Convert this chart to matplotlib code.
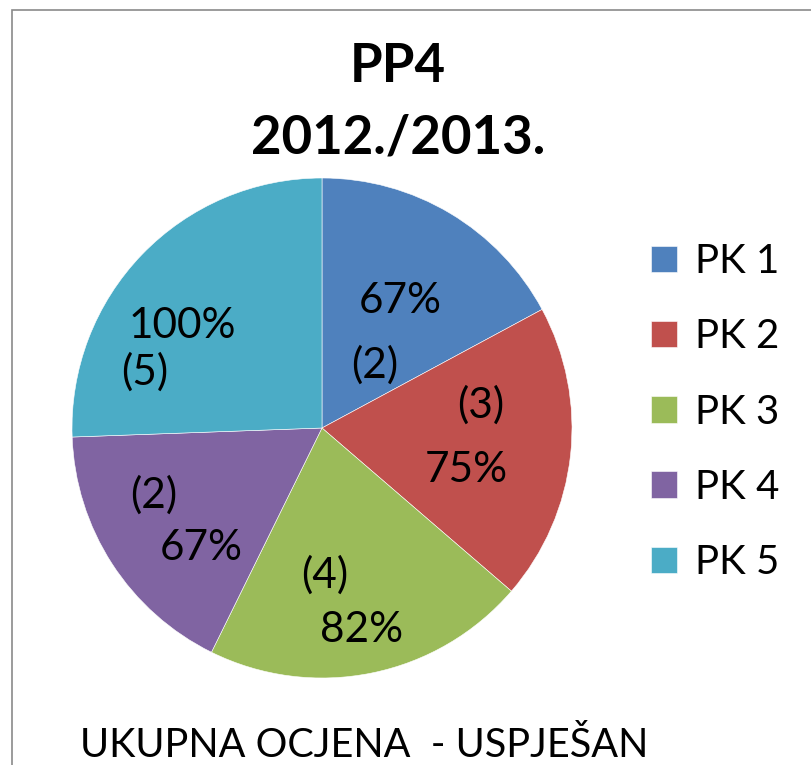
import matplotlib
matplotlib.use("Agg")
import matplotlib.pyplot as plt
import matplotlib.patches as patches

# data
categories = ["PK 1", "PK 2", "PK 3", "PK 4", "PK 5"]
percent = [67, 75, 82, 67, 100]
counts = [2, 3, 4, 2, 5]
colors = ["#4F81BD", "#C0504D", "#9BBB59", "#8064A2", "#4BACC6"]
title_lines = ["PP4", "2012./2013."]
footer = "UKUPNA OCJENA  - USPJEŠAN"

# label layout, (x, baseline y) in pie-radius units, per slice: percent line, count line
pct_pos = [(0.312, 0.46), (0.576, -0.216), (0.16, -0.856), (-0.484, -0.528), (-0.56, 0.36)]
cnt_pos = [(0.212, 0.20), (0.636, 0.04), (0.012, -0.64), (-0.672, -0.32), (-0.708, 0.172)]

W, H = 812, 765
FONT = ["Lato", "DejaVu Sans"]
plt.rcParams["font.family"] = FONT

fig = plt.figure(figsize=(W / 100, H / 100), dpi=100)
fig.patch.set_facecolor("white")

# outer chart border (only top and left visible in the crop)
border = patches.Rectangle((12 / W, -0.5), 2, 1.5 - 10 / H, transform=fig.transFigure,
                           fill=False, edgecolor="#8a8a8a", linewidth=1.2)
fig.add_artist(border)

# pie: centre (322, 428) px, radius 250 px
cx, cy, r = 322, 428, 250
ax = fig.add_axes([(cx - r) / W, (H - cy - r) / H, 2 * r / W, 2 * r / H])
wedges, _ = ax.pie(percent, colors=colors, startangle=90, counterclock=False, radius=1,
                   wedgeprops=dict(edgecolor="white", linewidth=0.4))
ax.set_xlim(-1, 1)
ax.set_ylim(-1, 1)
ax.set_aspect("equal")
ax.axis("off")

for i in range(len(percent)):
    ax.text(pct_pos[i][0], pct_pos[i][1], "%d%%" % percent[i], ha="center", va="baseline",
            fontsize=30.5, color="black")
    ax.text(cnt_pos[i][0], cnt_pos[i][1], "(%d)" % counts[i], ha="center", va="baseline",
            fontsize=30.5, color="black")

# title
fig.text(398 / W, 1 - 82 / H, title_lines[0], ha="center", va="baseline",
         fontsize=38, fontweight="bold")
fig.text(398 / W, 1 - 153 / H, title_lines[1], ha="center", va="baseline",
         fontsize=38, fontweight="bold")

# footer
fig.text(80 / W, 1 - 757 / H, footer, ha="left", va="baseline", fontsize=28.5)

# legend
fig.legend(wedges, categories, loc="center left", bbox_to_anchor=(651 / W, 1 - 412 / H),
           frameon=False, fontsize=29, handlelength=0.64, handleheight=0.64,
           handletextpad=0.45, labelspacing=0.95, borderpad=0, borderaxespad=0)

fig.savefig("out.png", dpi=100)
